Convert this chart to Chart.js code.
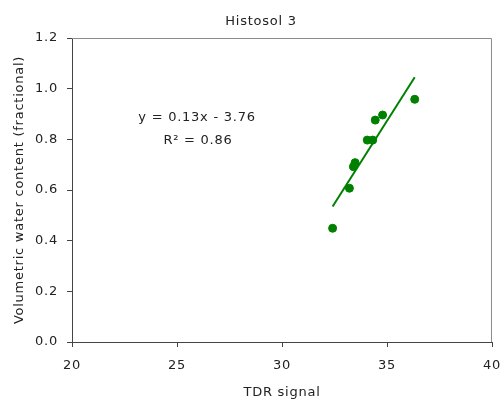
<!DOCTYPE html>
<html>
<head>
<meta charset="utf-8">
<script src="https://cdn.jsdelivr.net/npm/chart.js@4"></script>
<style>
  html, body { margin: 0; padding: 0; background: #fff; }
  #wrap { width: 502px; height: 401px; }
</style>
</head>
<body>
<div id="wrap"><canvas id="myChart"></canvas></div>
<script>
  // TDR signal vs volumetric water content
  const tdrSignal = [32.41, 33.21, 33.40, 33.48, 34.06, 34.32, 34.44, 34.79, 36.32];
  const waterContent = [0.449, 0.607, 0.692, 0.708, 0.797, 0.797, 0.876, 0.896, 0.958];
  // linear trendline end points
  const trendX = [32.41, 36.32];
  const trendY = [0.535, 1.045];
  const equationText = ['y = 0.13x - 3.76', 'R² = 0.86'];

  const font = { family: 'DejaVu Sans, Verdana, sans-serif', size: 13 };

  const extras = {
    id: 'extras',
    beforeInit(chart) {
      chart.ctx.letterSpacing = '0.75px';
    },
    beforeDraw(chart) {
      chart.ctx.letterSpacing = '0.75px';
    },
    afterDraw(chart) {
      const { ctx, chartArea } = chart;
      ctx.save();
      // gray box on top and right
      ctx.strokeStyle = '#8c8c8c';
      ctx.lineWidth = 1;
      ctx.beginPath();
      ctx.moveTo(chartArea.left, chartArea.top + 0.5);
      ctx.lineTo(chartArea.right - 0.5, chartArea.top + 0.5);
      ctx.lineTo(chartArea.right - 0.5, chartArea.bottom);
      ctx.stroke();
      ctx.fillStyle = '#222';
      ctx.font = '13px ' + font.family;
      ctx.textAlign = 'center';
      ctx.textBaseline = 'middle';
      ctx.fillText('Histosol 3', 261, 22);
      ctx.fillText(equationText[0], 197, 118);
      ctx.fillText(equationText[1], 198, 141);
      ctx.restore();
    }
  };

  const ctx = document.getElementById('myChart');

  new Chart(ctx, {
    type: 'scatter',
    data: {
      datasets: [{
        label: 'data',
        data: tdrSignal.map((x, i) => ({ x: x, y: waterContent[i] })),
        backgroundColor: '#008000',
        borderColor: '#008000',
        pointRadius: 4,
        pointHoverRadius: 4,
      },
      {
        label: 'trend',
        data: trendX.map((x, i) => ({ x: x, y: trendY[i] })),
        showLine: true,
        borderColor: '#008000',
        borderWidth: 2,
        pointRadius: 0,
      }]
    },
    plugins: [extras],
    options: {
      responsive: true,
      maintainAspectRatio: false,
      animation: false,
      layout: { padding: { top: 38, right: 10, left: 0, bottom: 0 } },
      plugins: {
        legend: { display: false },
        tooltip: { enabled: false }
      },
      scales: {
        x: {
          min: 20,
          max: 40,
          ticks: { stepSize: 5, color: '#222', font: font, padding: 11 },
          grid: { drawOnChartArea: false, drawTicks: true, tickLength: 5, color: '#444' },
          border: { color: '#444' },
          title: { display: true, text: 'TDR signal', color: '#222', font: font, padding: { top: 0, bottom: 1 } },
          afterFit(scale) {
            scale.height = 59;
            scale.paddingLeft = 0;
            scale.paddingRight = 0;
          }
        },
        y: {
          min: 0,
          max: 1.2,
          ticks: { stepSize: 0.2, color: '#222', font: font, padding: 9, callback: v => v.toFixed(1) },
          grid: { drawOnChartArea: false, drawTicks: true, tickLength: 5, color: '#444' },
          border: { color: '#444' },
          title: { display: true, text: 'Volumetric water content (fractional)', color: '#222', font: font, padding: { top: 12, bottom: 0 } },
          afterFit(scale) { scale.width = 72; }
        }
      }
    }
  });
</script>
</body>
</html>
